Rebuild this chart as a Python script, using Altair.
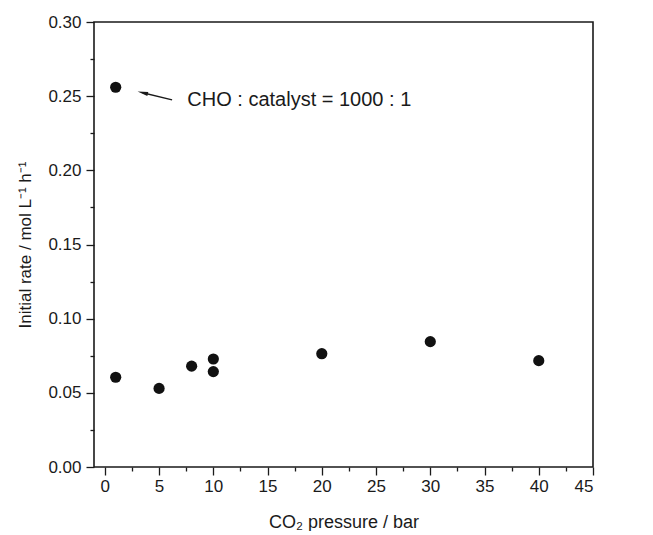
import altair as alt
import pandas as pd

# ---- data ----
pressure = [1, 5, 8, 10, 10, 20, 30, 40, 1]
rate = [0.0605, 0.053, 0.068, 0.0728, 0.0643, 0.0764, 0.0845, 0.0717, 0.256]

x_major = [0, 5, 10, 15, 20, 25, 30, 35, 40, 45]
x_minor = [2.5, 7.5, 12.5, 17.5, 22.5, 27.5, 32.5, 37.5, 42.5]
y_major = [0.0, 0.05, 0.10, 0.15, 0.20, 0.25, 0.30]
y_minor = [0.025, 0.075, 0.125, 0.175, 0.225, 0.275]

note_text = ["CHO : catalyst = 1000 : 1"]
note_x = [7.6]
note_y = [0.2475]
arrow_x = [3.49, 6.2]
arrow_y = [0.2523, 0.2475]
arrow_angle = [283.5]

FONT = "Liberation Sans"
INK = "#1a1a1a"

pts = pd.DataFrame({"p": pressure, "r": rate})
arrow = pd.DataFrame({"x": [arrow_x[0]], "y": [arrow_y[0]], "x2": [arrow_x[1]], "y2": [arrow_y[1]], "a": arrow_angle})
note = pd.DataFrame({"x": note_x, "y": note_y, "t": note_text})

xs = alt.Scale(domain=[-1, 45], nice=False, zero=False)
ys = alt.Scale(domain=[0, 0.30], nice=False, zero=False)

W, H = 499, 445

major_x_axis = alt.Axis(values=x_major, format="d", tickSize=8, tickWidth=1.3, tickColor=INK,
                        labelFont=FONT, labelFontSize=17, labelColor=INK, labelPadding=3,
                        domain=False, grid=False, orient="bottom",
                        title="CO₂ pressure / bar", titleFont=FONT, titleFontSize=18,
                        titleFontWeight="normal", titleColor=INK,
                        titleX=W / 2, titleY=55, titleBaseline="middle", titleAlign="center")
major_y_axis = alt.Axis(values=y_major, format=".2f", tickSize=8, tickWidth=1.3, tickColor=INK,
                        labelFont=FONT, labelFontSize=17, labelColor=INK, labelPadding=5,
                        domain=False, grid=False, orient="left",
                        title="Initial rate / mol L⁻¹ h⁻¹", titleFont=FONT, titleFontSize=17,
                        titleFontWeight="normal", titleColor=INK, titleAngle=-90,
                        titleX=-69, titleY=H / 2, titleBaseline="middle", titleAlign="center")

minor_x_axis = alt.Axis(values=x_minor, tickSize=4, tickWidth=1.3, tickColor=INK, labels=False,
                        domain=False, grid=False, orient="bottom", title=None)
minor_y_axis = alt.Axis(values=y_minor, tickSize=4, tickWidth=1.3, tickColor=INK, labels=False,
                        domain=False, grid=False, orient="left", title=None)

points = alt.Chart(pts).mark_circle(size=125, color="#111111", opacity=1).encode(
    x=alt.X("p:Q", scale=xs, axis=major_x_axis),
    y=alt.Y("r:Q", scale=ys, axis=major_y_axis),
)

minor = alt.Chart(pts).mark_circle(opacity=0).encode(
    x=alt.X("p:Q", scale=xs, axis=minor_x_axis),
    y=alt.Y("r:Q", scale=ys, axis=minor_y_axis),
)

shaft = alt.Chart(arrow).mark_rule(color=INK, strokeWidth=1.3).encode(
    x=alt.X("x:Q", scale=xs, axis=None),
    y=alt.Y("y:Q", scale=ys, axis=None),
    x2="x2:Q", y2="y2:Q",
)

head = alt.Chart(arrow).mark_point(
    shape="M0,-1L0.4,1L-0.4,1Z", filled=True, color=INK, size=110, opacity=1
).encode(
    x=alt.X("x:Q", scale=xs, axis=None),
    y=alt.Y("y:Q", scale=ys, axis=None),
    angle=alt.Angle("a:Q", scale=None),
)

label = alt.Chart(note).mark_text(
    align="left", baseline="middle", font=FONT, fontSize=20, color=INK
).encode(
    x=alt.X("x:Q", scale=xs, axis=None),
    y=alt.Y("y:Q", scale=ys, axis=None),
    text="t:N",
)

chart = alt.layer(points, minor, shaft, head, label).resolve_axis(
    x="independent", y="independent"
).properties(
    width=W, height=H,
    autosize=alt.AutoSizeParams(type="none"),
    padding={"left": 86, "top": 14, "right": 40, "bottom": 64},
    background="white",
).configure_view(stroke=INK, strokeWidth=1.6)

chart.save("out.html", embed_options={"renderer": "svg", "actions": False})
